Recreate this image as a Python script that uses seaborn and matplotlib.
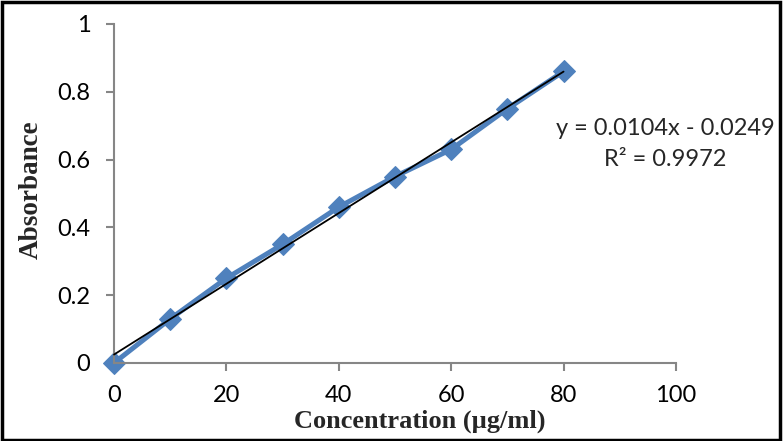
import numpy as np
import pandas as pd
import seaborn as sns
import matplotlib.pyplot as plt
from matplotlib.patches import Rectangle

# standard curve readings
conc = [0, 10, 20, 30, 40, 50, 60, 70, 80]
absorb = [0, 0.13, 0.25, 0.35, 0.46, 0.55, 0.63, 0.75, 0.86]
x_ticks = [0, 20, 40, 60, 80, 100]
y_ticks = [0, 0.2, 0.4, 0.6, 0.8, 1]
y_labels = ['0', '0.2', '0.4', '0.6', '0.8', '1']
eq_text = 'y = 0.0104x - 0.0249\nR² = 0.9972'

df = pd.DataFrame({'Concentration': conc, 'Absorbance': absorb})

sns.set_style('white')
plt.rcParams['font.family'] = ['Lato', 'DejaVu Sans']

fig = plt.figure(figsize=(7.83, 4.41), dpi=100)
ax = fig.add_axes([0.1456, 0.1769, 0.7177, 0.7687])

sns.lineplot(data=df, x='Concentration', y='Absorbance', ax=ax, color='#4F81BD',
             linewidth=3.6, marker='D', markersize=11, markeredgecolor='#4F81BD')

# linear trendline
k, b = np.polyfit(conc, absorb, 1)
xx = np.array([min(conc), max(conc)])
ax.plot(xx, k * xx + b, color='black', linewidth=1.3, zorder=5)

ax.set_xlim(0, 100)
ax.set_ylim(0, 1)
ax.set_xticks(x_ticks)
ax.set_yticks(y_ticks)
ax.set_yticklabels(y_labels)
ax.tick_params(axis='both', labelsize=17, colors='#868686', labelcolor='black',
               length=6, width=1.5, direction='out')
ax.tick_params(axis='y', pad=11)
ax.tick_params(axis='x', pad=10)
ax.tick_params(left=True, bottom=True)
for s in ['top', 'right']:
    ax.spines[s].set_visible(False)
for s in ['left', 'bottom']:
    ax.spines[s].set_color('#868686')
    ax.spines[s].set_linewidth(1.5)

ax.set_xlabel('Concentration (µg/ml)', fontsize=19, fontweight='bold',
              family='Liberation Serif', va='center')
ax.set_ylabel('Absorbance', fontsize=19.5, fontweight='bold',
              family='Liberation Serif', va='center')
ax.xaxis.set_label_coords(0.5445, -0.171)
ax.yaxis.set_label_coords(-0.1477, 0.51)

fig.text(665 / 783, 1 - 144 / 441, eq_text, ha='center', va='center',
         fontsize=17, linespacing=1.6)

ax.patch.set_visible(False)
for c in ax.collections + ax.lines:
    c.set_clip_on(False)

fig.add_artist(Rectangle((0.002, 0.003), 0.994, 0.993, transform=fig.transFigure,
                         fill=False, edgecolor='black', linewidth=2.5))

fig.savefig('out.png', dpi=100)
